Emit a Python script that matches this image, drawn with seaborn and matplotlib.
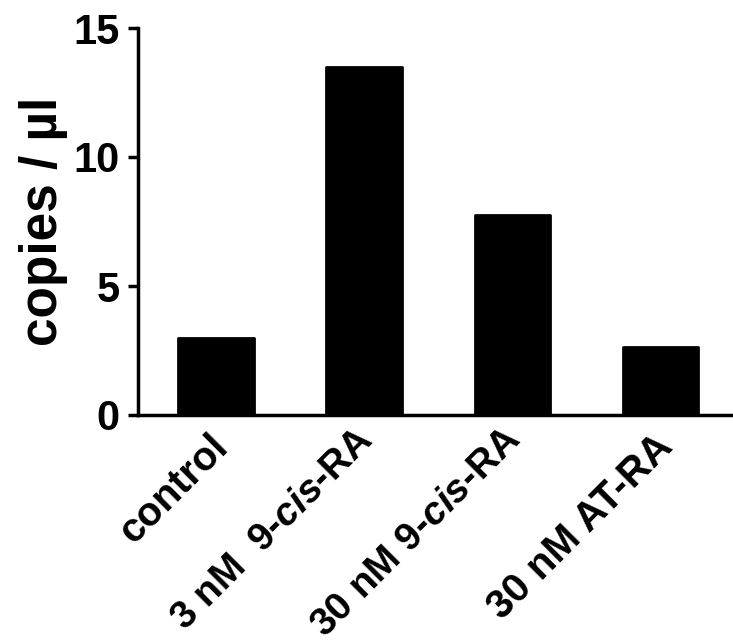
import matplotlib
matplotlib.use("Agg")
import matplotlib.pyplot as plt
import matplotlib.transforms as mtransforms
import seaborn as sns
import pandas as pd

categories = ["control", "3 nM  9-$cis$-RA", "30 nM 9-$cis$-RA", "30 nM AT-RA"]
values = [3.0, 13.5, 7.75, 2.65]
yticks = [0, 5, 10, 15]

sns.set_theme(style="ticks")
plt.rcParams['font.family'] = ['Liberation Sans', 'DejaVu Sans']
plt.rcParams['font.weight'] = 'bold'
plt.rcParams['mathtext.fontset'] = 'custom'
plt.rcParams['mathtext.it'] = 'Liberation Sans:italic:bold'
plt.rcParams['mathtext.rm'] = 'Liberation Sans:bold'
for k in ['text.color', 'axes.labelcolor', 'xtick.color', 'ytick.color', 'axes.edgecolor']:
    plt.rcParams[k] = 'black'

df = pd.DataFrame({"cat": categories, "val": values})

fig = plt.figure(figsize=(7.33, 6.44), dpi=100)
ax = fig.add_axes([138/733, (644-415)/644, 1 - 138/733, (415-28)/644])

sns.barplot(data=df, x="cat", y="val", color="black", width=0.51,
            edgecolor="black", linewidth=2, ax=ax, saturation=1)
for p in ax.patches:
    p.set_joinstyle("round")

ax.set_xlim(-0.527, 3.49)
ax.set_ylim(0, 15)
ax.tick_params(axis='y', length=7, width=2.5, pad=6, direction='out')
ax.tick_params(axis='x', length=0, pad=13)
ax.set_yticks(yticks)
ax.set_yticklabels([str(t) for t in yticks], fontsize=30, fontweight='bold')
ax.set_xticks(range(len(categories)))
ax.set_xticklabels(categories, fontsize=29, fontweight='bold',
                   rotation=45, ha='right', va='center', rotation_mode='anchor')
for lbl in ax.get_xticklabels():
    if '$' in lbl.get_text():
        lbl.set_fontsize(28)
        off = mtransforms.ScaledTranslation(0.03, -0.01, fig.dpi_scale_trans)
    else:
        off = mtransforms.ScaledTranslation(0.06, -0.08, fig.dpi_scale_trans)
    lbl.set_transform(lbl.get_transform() + off)

ax.set_xlabel("")
ax.set_ylabel("copies / µl", fontsize=37, fontweight='bold', labelpad=4)
sns.despine(ax=ax)
ax.spines['left'].set_linewidth(2.5)
ax.spines['bottom'].set_linewidth(2.5)

fig.savefig("out.png", dpi=100)
